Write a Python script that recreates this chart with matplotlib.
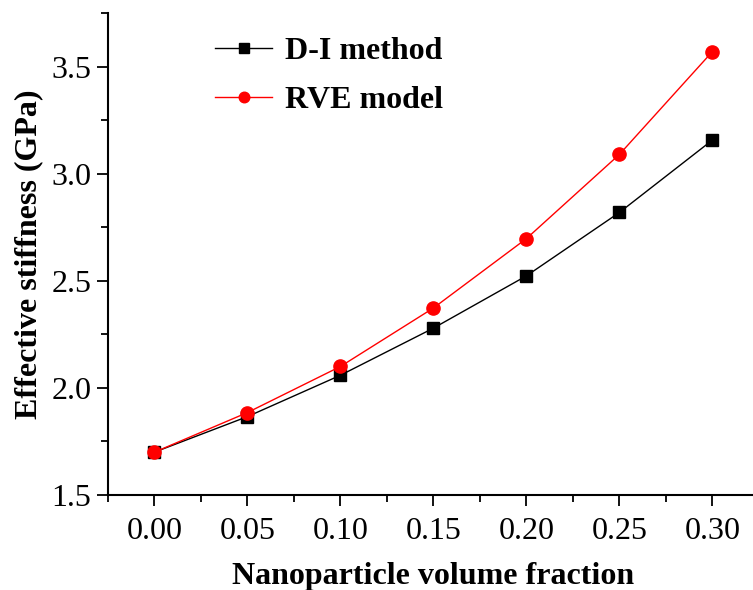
import matplotlib
matplotlib.use("Agg")
import matplotlib.pyplot as plt
from matplotlib.ticker import MultipleLocator

# volume fraction vs effective stiffness (GPa)
vol_frac = [0.00, 0.05, 0.10, 0.15, 0.20, 0.25, 0.30]
di_method = [1.70, 1.866, 2.059, 2.279, 2.523, 2.819, 3.157]
rve_model = [1.70, 1.885, 2.100, 2.373, 2.697, 3.090, 3.570]

plt.rcParams['font.family'] = ['Liberation Serif', 'DejaVu Serif']

fig = plt.figure(figsize=(7.53, 5.90), dpi=100)
ax = fig.add_axes([0.1434, 0.161, 0.8645, 0.817])

ax.plot(vol_frac, di_method, color='black', lw=1.0, marker='s', ms=8.5, label='D-I method')
ax.plot(vol_frac, rve_model, color='red', lw=1.0, marker='o', ms=9.5, label='RVE model')

ax.set_xlim(-0.025, 0.325)
ax.set_ylim(1.5, 3.75)
ax.xaxis.set_major_locator(MultipleLocator(0.05))
ax.xaxis.set_minor_locator(MultipleLocator(0.025))
ax.yaxis.set_major_locator(MultipleLocator(0.5))
ax.yaxis.set_minor_locator(MultipleLocator(0.25))
ax.xaxis.set_major_formatter(plt.FormatStrFormatter('%.2f'))
ax.yaxis.set_major_formatter(plt.FormatStrFormatter('%.1f'))

for s in ['top', 'right']:
    ax.spines[s].set_visible(False)
for s in ['left', 'bottom']:
    ax.spines[s].set_linewidth(1.5)
ax.tick_params(which='major', direction='out', length=8, width=1.3, labelsize=23)
ax.tick_params(which='minor', direction='out', length=5, width=1.3)
ax.tick_params(axis='x', pad=8)
ax.tick_params(axis='y', pad=4)

ax.set_xlabel('Nanoparticle volume fraction', fontsize=23, fontweight='bold', labelpad=11)
ax.set_ylabel('Effective stiffness (GPa)', fontsize=23, fontweight='bold', labelpad=6)

ax.legend(loc='upper left', bbox_to_anchor=(0.12, 1.01), frameon=False,
          prop={'size': 23, 'weight': 'bold'}, handlelength=1.8,
          handletextpad=0.4, labelspacing=0.6, markerscale=0.8)

fig.savefig('out.png', dpi=100)
